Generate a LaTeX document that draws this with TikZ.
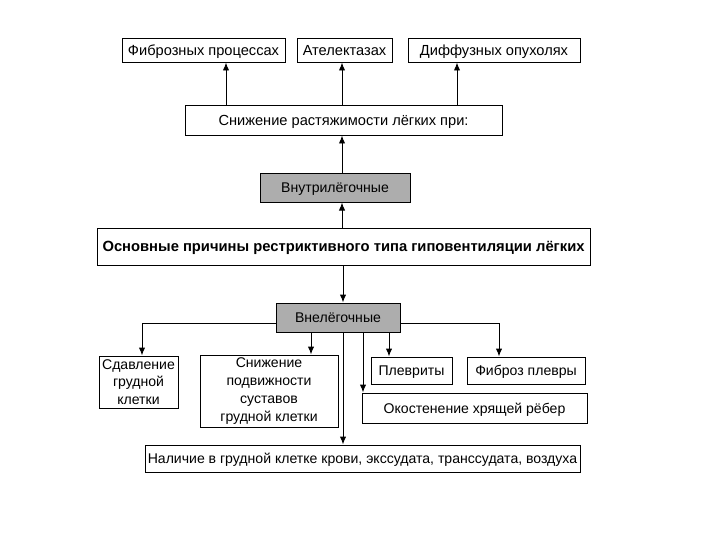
\documentclass[tikz,border=0pt]{standalone}
\usepackage{fontspec}
\setmainfont{Liberation Sans}
\usetikzlibrary{arrows.meta,positioning}

\begin{document}
\begin{tikzpicture}[
        x=0.025cm,
        y=-0.025cm,
        font=\fontsize{10}{12.6}\selectfont,
        wh/.style 2 args={minimum width=#1*0.025cm, minimum height=#2*0.025cm},
        box/.style={draw, line width=0.7pt, inner sep=1pt, text height=1.5ex, text depth=.15ex},
        multi/.style={draw, line width=0.7pt, inner sep=1pt, align=center},
        grey/.style={box, fill=black!32},
        link/.style={line width=0.7pt},
        arr/.style={link, -{Latex[length=2mm, width=1.6mm]}}
    ]
        \useasboundingbox (0,0) rectangle (720,540);

        % Top row: what lowers the compliance.
        \foreach \n/\x/\w/\lab in {fib/203.5/163/{Фиброзных процессах},atel/344.5/95/{Ателектазах},diff/494/172/{Диффузных опухолях}} {
            \node[box, wh={\w}{24}, font=\fontsize{10.4}{12.6}\selectfont] (\n) at (\x,50) {\lab};
        }
        \node[box, wh={317}{30}, font=\fontsize{10.4}{12.6}\selectfont] (dec) at (343.5,120) {Снижение растяжимости лёгких при:};
        \foreach \n/\x in {fib/226,atel/342,diff/457} {
            \draw[arr] (\x,0 |- dec.north) -- (\x,0 |- \n.south);
        }

        % Middle: main box and the two groups.
        \node[grey, wh={150}{29}] (intra) at (335,187.5) {Внутрилёгочные};
        \node[box, wh={493}{37}, font=\fontsize{10.5}{12.6}\selectfont\bfseries] (main) at (343.5,246.5)
            {Основные причины рестриктивного типа гиповентиляции лёгких};
        \node[grey, wh={124}{29}] (extra) at (338,317.5) {Внелёгочные};
        \draw[arr] (342,0 |- main.north) -- (342,0 |- intra.south);
        \draw[arr] (342,0 |- intra.north) -- (342,0 |- dec.south);
        \draw[arr] (343,0 |- main.south) -- (343,0 |- extra.north);

        % Bottom: extrapulmonary causes.
        \node[multi, wh={79}{52}] (comp) at (138.5,382) {Сдавление\\грудной\\клетки};
        \node[multi, wh={138}{72}] (mob) at (269,391) {Снижение\\подвижности\\суставов\\грудной клетки};
        \node[box, wh={81}{27}] (pleur) at (411.5,370.5) {Плевриты};
        \node[box, wh={118}{27}] (fibpl) at (526,370.5) {Фиброз плевры};
        \node[box, wh={225}{30}] (oss) at (474.5,408) {Окостенение хрящей рёбер};
        \node[box, wh={435}{27}] (pres) at (362.5,458.5)
            {Наличие в грудной клетке крови, экссудата, транссудата, воздуха};

        \draw[arr] (extra.west |- 0,323) -| (142,0 |- comp.north);
        \draw[arr] (extra.east |- 0,323) -| (499,0 |- fibpl.north);
        \draw[arr] (311,0 |- extra.south) -- (311,0 |- mob.north);
        \draw[arr] (389,0 |- extra.south) -- (389,0 |- pleur.north);
        \draw[arr] (363,0 |- extra.south) -- (363,0 |- oss.north);
        \draw[arr] (343,0 |- extra.south) -- (343,0 |- pres.north);
    \end{tikzpicture}
\end{document}
